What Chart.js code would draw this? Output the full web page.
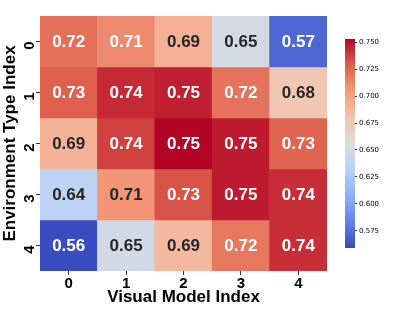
<!DOCTYPE html>
<html>
<head>
<meta charset="utf-8">
<script src="https://cdn.jsdelivr.net/npm/chart.js@4.4.1/dist/chart.umd.min.js"></script>
<style>
  html, body { margin: 0; padding: 0; background: #fff; }
  #wrap { position: relative; width: 399px; height: 319px; }
  #heat { position: absolute; left: 0; top: 0; }
  #cbar { position: absolute; left: 330px; top: 0; }
</style>
</head>
<body>
<div id="wrap">
  <canvas id="heat" width="399" height="319"></canvas>
  <canvas id="cbar" width="69" height="319"></canvas>
</div>
<script>
// Heatmap data (rows = environment type, columns = visual model)
const xLabels = ['0', '1', '2', '3', '4'];
const yLabels = ['0', '1', '2', '3', '4'];
const row0 = [0.722, 0.711, 0.691, 0.650, 0.571];
const row1 = [0.729, 0.743, 0.746, 0.721, 0.677];
const row2 = [0.690, 0.737, 0.753, 0.747, 0.727];
const row3 = [0.636, 0.706, 0.732, 0.747, 0.742];
const row4 = [0.559, 0.648, 0.687, 0.719, 0.742];
const rows = [row0, row1, row2, row3, row4];
const cbarTicks = [0.575, 0.6, 0.625, 0.65, 0.675, 0.7, 0.725, 0.75];
const vmin = 0.559;
const vmax = 0.753;

// matplotlib "coolwarm" sampled at 9 points
const coolwarmStops = [
  [58, 76, 192], [98, 130, 234], [141, 176, 254], [184, 208, 249],
  [221, 220, 220], [244, 196, 173], [244, 154, 123], [222, 96, 77], [180, 4, 38],
];

function coolwarmRGB(t) {
  t = Math.max(0, Math.min(1, t));
  const pos = t * (coolwarmStops.length - 1);
  const i = Math.min(Math.floor(pos), coolwarmStops.length - 2);
  const f = pos - i;
  const a = coolwarmStops[i], b = coolwarmStops[i + 1];
  return a.map((c, k) => Math.round(c + (b[k] - c) * f));
}
const rgbStr = (c) => `rgb(${c[0]},${c[1]},${c[2]})`;
const norm = (v) => (v - vmin) / (vmax - vmin);

// same rule seaborn uses to choose dark or white annotation text
function textColorFor(rgb) {
  const lin = rgb.map((c) => {
    c /= 255;
    return c <= 0.03928 ? c / 12.92 : Math.pow((c + 0.055) / 1.055, 2.4);
  });
  const lum = 0.2126 * lin[0] + 0.7152 * lin[1] + 0.0722 * lin[2];
  return lum > 0.408 ? '#262626' : '#ffffff';
}

const FONT = "'Liberation Sans', Arial, sans-serif";

const annotatePlugin = {
  id: 'annotate',
  afterDatasetsDraw(chart) {
    const ctx = chart.ctx;
    ctx.save();
    ctx.font = `bold 17px ${FONT}`;
    ctx.textAlign = 'center';
    ctx.textBaseline = 'middle';
    chart.data.datasets.forEach((ds, di) => {
      chart.getDatasetMeta(di).data.forEach((el, i) => {
        const v = ds.data[i].v;
        const p = el.getCenterPoint();
        ctx.fillStyle = textColorFor(coolwarmRGB(norm(v)));
        ctx.fillText(v.toFixed(2), p.x, p.y + 1);
      });
    });
    ctx.restore();
  },
};

new Chart(document.getElementById('heat'), {
  type: 'bar',
  data: {
    labels: xLabels,
    datasets: rows.map((row, r) => ({
      data: row.map((v, c) => ({ x: xLabels[c], y: [r, r + 1], v })),
      backgroundColor: row.map((v) => rgbStr(coolwarmRGB(norm(v)))),
      borderWidth: 0,
      barPercentage: 1,
      categoryPercentage: 1,
      grouped: false,
    })),
  },
  options: {
    responsive: false,
    devicePixelRatio: 1,
    animation: false,
    layout: { padding: { left: 0, top: 16, right: 72, bottom: 0 } },
    plugins: { legend: { display: false }, tooltip: { enabled: false } },
    scales: {
      x: {
        type: 'category',
        offset: true,
        border: { display: false },
        grid: { display: true, offset: false, drawOnChartArea: false, drawTicks: true, tickLength: 4, color: '#333' },
        ticks: { color: '#000', padding: 0, font: { family: FONT, size: 15, weight: 'bold' } },
        title: {
          display: true, text: 'Visual Model Index', color: '#000',
          font: { family: FONT, size: 17, weight: 'bold' }, padding: { top: 0, bottom: 11 },
        },
        afterFit(scale) { scale.height = 48; },
      },
      y: {
        type: 'linear',
        min: 0,
        max: 5,
        reverse: true,
        border: { display: false },
        grid: { display: true, drawOnChartArea: false, drawTicks: true, tickLength: 4, color: '#333' },
        afterBuildTicks(scale) { scale.ticks = yLabels.map((l, i) => ({ value: i + 0.5 })); },
        ticks: {
          color: '#000', padding: 6, minRotation: 90, maxRotation: 90,
          font: { family: FONT, size: 15, weight: 'bold' },
          callback: (v) => yLabels[Math.round(v - 0.5)],
        },
        title: {
          display: true, text: 'Environment Type Index', color: '#000',
          font: { family: FONT, size: 17, weight: 'bold' }, padding: { top: 0, bottom: 0 },
        },
        afterFit(scale) { scale.width = 40; },
      },
    },
  },
  plugins: [annotatePlugin],
});

// Colorbar: one floating bar spanning vmin..vmax, filled with the colormap
const gradientPlugin = {
  id: 'cbarGradient',
  beforeDatasetsDraw(chart) {
    const y = chart.scales.y;
    const g = chart.ctx.createLinearGradient(0, y.getPixelForValue(vmin), 0, y.getPixelForValue(vmax));
    coolwarmStops.forEach((c, i) => g.addColorStop(i / (coolwarmStops.length - 1), rgbStr(c)));
    chart.getDatasetMeta(0).data.forEach((el) => { el.options.backgroundColor = g; });
  },
};

new Chart(document.getElementById('cbar'), {
  type: 'bar',
  data: {
    labels: ['cb'],
    datasets: [{
      data: [[vmin, vmax]],
      barPercentage: 1,
      categoryPercentage: 1,
      borderWidth: 0,
      backgroundColor: '#ccc',
    }],
  },
  options: {
    responsive: false,
    devicePixelRatio: 1,
    animation: false,
    layout: { padding: { left: 15, top: 39, right: 0, bottom: 71 } },
    plugins: { legend: { display: false }, tooltip: { enabled: false } },
    scales: {
      x: { display: false },
      y: {
        position: 'right',
        min: vmin,
        max: vmax,
        border: { display: false },
        grid: { display: true, drawOnChartArea: false, drawTicks: true, tickLength: 2, color: '#333' },
        afterBuildTicks(scale) { scale.ticks = cbarTicks.map((v) => ({ value: v })); },
        ticks: {
          color: '#000', padding: 2,
          font: { family: "'DejaVu Sans', sans-serif", size: 7 },
          callback: (v) => v.toFixed(3),
        },
        afterFit(scale) { scale.width = 44; },
      },
    },
  },
  plugins: [gradientPlugin],
});
</script>
</body>
</html>
